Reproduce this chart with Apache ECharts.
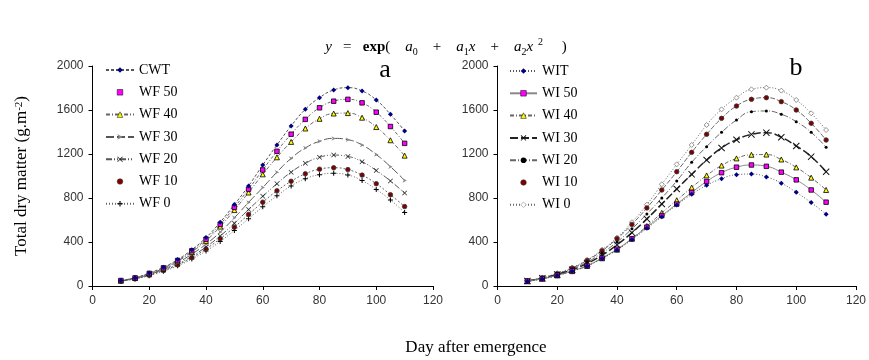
<!DOCTYPE html>
<html><head><meta charset="utf-8">
<script src="https://cdn.jsdelivr.net/npm/echarts@6/dist/echarts.min.js"></script>
<style>html,body{margin:0;padding:0;background:#fff}#c{width:869px;height:360px}</style>
</head><body><div id="c"></div>
<script>
// ---- data ----
const days = [10,15,20,25,30,35,40,45,50,55,60,65,70,75,80,85,90,95,100,105,110];
const xTicks = [0,20,40,60,80,100,120];
const yTicks = [0,400,800,1200,1600,2000];
// panel a
const cwt  = [50,75,118,170,240,330,440,580,740,910,1100,1282,1455,1606,1712,1782,1803,1773,1691,1561,1409];
const wf50 = [50,74,115,165,232,320,425,560,715,880,1055,1225,1380,1515,1620,1680,1697,1665,1580,1450,1297];
const wf40 = [48,72,110,160,225,310,410,540,690,850,1015,1170,1310,1432,1520,1568,1572,1530,1445,1325,1185];
const wf30 = [47,70,105,152,212,290,380,490,620,760,895,1035,1160,1255,1315,1342,1330,1282,1195,1085,960];
const wf20 = [46,68,100,145,200,270,355,455,570,695,815,930,1035,1115,1170,1190,1178,1130,1050,955,845];
const wf10 = [45,66,97,140,192,258,337,430,535,650,762,865,952,1020,1062,1075,1058,1008,930,830,722];
const wf0  = [44,64,94,134,183,245,318,405,505,612,720,820,910,975,1012,1024,1009,958,878,782,668];
// panel b
const wit  = [42,64,95,135,182,250,327,422,524,630,736,833,915,975,1012,1018,992,935,852,758,652];
const wi50 = [44,67,98,138,185,255,335,430,535,640,745,850,950,1030,1080,1100,1088,1035,965,873,762];
const wi40 = [43,66,96,135,182,252,330,430,545,665,780,895,1005,1095,1160,1193,1195,1150,1078,985,873];
const wi30 = [46,70,104,148,205,280,375,485,610,745,882,1015,1145,1255,1330,1378,1394,1352,1273,1176,1039];
const wi20 = [47,72,108,155,218,300,400,520,655,800,955,1124,1267,1397,1509,1585,1591,1561,1494,1397,1261];
const wi10 = [48,74,112,162,232,320,430,560,710,873,1039,1215,1379,1524,1636,1697,1712,1676,1600,1479,1327];
const wi0  = [50,76,116,168,238,330,440,580,740,925,1106,1282,1464,1606,1712,1788,1803,1776,1691,1570,1418];

const namesA = ['CWT','WF 50','WF 40','WF 30','WF 20','WF 10','WF 0'];
const namesB = ['WIT','WI 50','WI 40','WI 30','WI 20','WI 10','WI 0'];

// ---- styling ----
const serif = '"Liberation Serif","Times New Roman",serif';
const narrow = '"Liberation Sans Narrow","Arial Narrow","Liberation Sans",Arial,sans-serif';
const X_SYM = 'path://M0,1L1,0L5,4L9,0L10,1L6,5L10,9L9,10L5,6L1,10L0,9L4,5Z';
const PLUS_SYM = 'path://M4,0H6V4H10V6H6V10H4V6H0V4H4Z';
const ARROW_SYM = 'path://M0,0L10,5L0,10L3,5Z';

function ser(name, arr, idx, symbol, size, fill, border, lineColor, lineType, lineWidth) {
  return {
    name, type: 'line', xAxisIndex: idx, yAxisIndex: idx,
    data: days.map((d, i) => [d, arr[i]]),
    smooth: true, symbol, symbolSize: size, showSymbol: true,
    itemStyle: { color: fill, borderColor: border, borderWidth: border ? 0.8 : 0 },
    lineStyle: { color: lineColor, type: lineType, width: lineWidth || 1 },
    emphasis: { disabled: true }, animation: false
  };
}

const series = [
  ser('WF 0',  wf0,  0, PLUS_SYM, 5, '#000', null, '#666', [1,2]),
  ser('WF 10', wf10, 0, 'circle', 4.5, '#800000', '#333', '#666', [2,2]),
  ser('WF 20', wf20, 0, X_SYM, 5, '#222', null, '#555', [6,2,1,2,1,2]),
  ser('WF 30', wf30, 0, ARROW_SYM, 4.5, '#888', null, '#555', [8,3]),
  ser('WF 40', wf40, 0, 'triangle', 5, '#ffff00', '#000', '#666', [4,2,1,2]),
  ser('WF 50', wf50, 0, 'rect', 4.5, '#ff00ff', '#000', '#666', [3,2,1,2]),
  ser('CWT',   cwt,  0, 'diamond', 5, '#000080', null, '#555', [3,2]),

  ser('WI 0',  wi0,  1, 'diamond', 5, '#ffffff', '#777', '#666', [1,2]),
  ser('WI 10', wi10, 1, 'circle', 4.5, '#800000', '#333', '#666', [5,2]),
  ser('WI 20', wi20, 1, 'circle', 3, '#000', null, '#666', [6,2,1,2]),
  ser('WI 30', wi30, 1, X_SYM, 7, '#111', null, '#222', [8,3], 1.5),
  ser('WI 40', wi40, 1, 'triangle', 5, '#ffff00', '#000', '#666', [4,2,1,2]),
  ser('WI 50', wi50, 1, 'rect', 4.5, '#ff00ff', '#000', '#888', 'solid'),
  ser('WIT',   wit,  1, 'diamond', 5, '#000080', null, '#555', [1,2])
];

function legendData(names, markerOnly) {
  return names.map(n => {
    const item = { name: n, itemStyle: { borderWidth: 0.5 } };
    if (markerOnly.includes(n)) item.lineStyle = { opacity: 0 };
    return item;
  });
}

function xAx(idx) {
  return {
    type: 'value', gridIndex: idx, min: 0, max: 120, interval: 20,
    axisLine: { show: true, onZero: false, lineStyle: { color: '#000', width: 1 } },
    axisTick: { show: true, length: 4, lineStyle: { color: '#000' } },
    axisLabel: { fontFamily: narrow, fontSize: 12, color: '#333', margin: 9,
      formatter: v => xTicks.includes(v) ? String(v) : '' },
    splitLine: { show: false }
  };
}
function yAx(idx) {
  return {
    type: 'value', gridIndex: idx, min: 0, max: 2000, interval: 400,
    axisLine: { show: true, onZero: false, lineStyle: { color: '#000', width: 1 } },
    axisTick: { show: true, length: 4, lineStyle: { color: '#000' } },
    axisLabel: { fontFamily: narrow, fontSize: 12, color: '#333', margin: 9,
      formatter: v => yTicks.includes(v) ? String(v) : '' },
    splitLine: { show: false }
  };
}

const legendCommon = {
  orient: 'vertical', itemWidth: 28, itemHeight: 7, itemGap: 8.3,
  textStyle: { fontFamily: serif, fontSize: 14, color: '#000', lineHeight: 14 },
  selectedMode: false, inactiveColor: '#000'
};

const option = {
  backgroundColor: '#fff',
  animation: false,
  grid: [
    { left: 92.5, top: 66, width: 340.5, height: 220 },
    { left: 497.5, top: 66, width: 364.5, height: 220 }
  ],
  xAxis: [xAx(0), xAx(1)],
  yAxis: [yAx(0), yAx(1)],
  legend: [
    Object.assign({}, legendCommon, { left: 100, top: 58, data: legendData(namesA, ['WF 50','WF 10']) }),
    Object.assign({}, legendCommon, { left: 504, top: 59, itemWidth: 27, data: legendData(namesB, ['WI 10']) })
  ],
  series,
  graphic: [
    { type: 'text', x: 446, y: 47, style: {
      text: '{i|y}   =   {b|exp}(    {i|a}{s|0}    +    {i|a}{s|1}{i|x}    +    {i|a}{s|2}{i|x}{p|  2}     )',
      fontFamily: serif, fontSize: 15, fill: '#000', align: 'center', verticalAlign: 'middle',
      rich: {
        i: { fontFamily: serif, fontStyle: 'italic', fontSize: 15, lineHeight: 20, verticalAlign: 'middle' },
        b: { fontFamily: serif, fontWeight: 'bold', fontSize: 15, lineHeight: 20, verticalAlign: 'middle' },
        s: { fontFamily: serif, fontSize: 10, lineHeight: 10, verticalAlign: 'bottom' },
        p: { fontFamily: serif, fontSize: 10, lineHeight: 10, verticalAlign: 'top' }
      }
    } },
    { type: 'text', x: 22, y: 176, rotation: Math.PI / 2, style: {
      text: 'Total dry matter (g.m{p|-2})', fontFamily: serif, fontSize: 17, fill: '#000',
      align: 'center', verticalAlign: 'middle',
      rich: { p: { fontFamily: serif, fontSize: 11, verticalAlign: 'top', lineHeight: 10 } }
    } },
    { type: 'text', x: 476, y: 348, style: {
      text: 'Day after emergence', fontFamily: serif, fontSize: 17, fill: '#000',
      align: 'center', verticalAlign: 'middle' } },
    { type: 'text', x: 385, y: 70, style: {
      text: 'a', fontFamily: serif, fontSize: 26, fill: '#000', align: 'center', verticalAlign: 'middle' } },
    { type: 'text', x: 796, y: 68, style: {
      text: 'b', fontFamily: serif, fontSize: 26, fill: '#000', align: 'center', verticalAlign: 'middle' } }
  ]
};
const chart = echarts.init(document.getElementById('c'), null, { renderer: 'canvas' });
chart.setOption(option);
</script>
</body></html>
